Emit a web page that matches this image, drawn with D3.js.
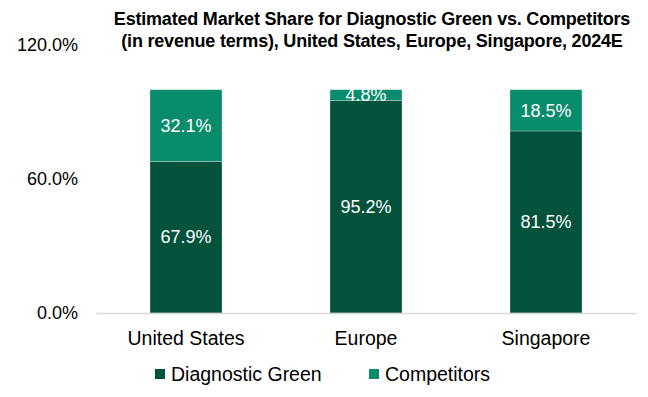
<!DOCTYPE html>
<html>
<head>
<meta charset="utf-8">
<script src="https://cdn.jsdelivr.net/npm/d3@7"></script>
<style>
  body { margin: 0; background: #fff; }
  text { font-family: "Liberation Sans", Arial, sans-serif; }
</style>
</head>
<body>
<div id="chart"></div>
<script>
// data
var categories = ["United States", "Europe", "Singapore"];
var seriesNames = ["Diagnostic Green", "Competitors"];
var diagnosticGreen = [67.9, 95.2, 81.5];
var competitors = [32.1, 4.8, 18.5];
var yTicks = [0, 60, 120];

var colors = ["#02523c", "#098c6c"];

// svg container
var svgWidth = 648;
var svgHeight = 397;

var margin = { top: 45, right: 12, bottom: 84, left: 96 };
var chartWidth = svgWidth - margin.left - margin.right;
var chartHeight = svgHeight - margin.top - margin.bottom;

var svg = d3.select("#chart")
            .append("svg")
            .attr("width", svgWidth)
            .attr("height", svgHeight);

// title
var title = svg.append("text")
               .attr("x", 372)
               .attr("y", 25)
               .attr("text-anchor", "middle")
               .style("font-size", "18px")
               .style("font-weight", "bold")
               .style("letter-spacing", "-0.2px")
               .attr("fill", "#000");
title.append("tspan").attr("x", 372).attr("dy", 0)
     .text("Estimated Market Share for Diagnostic Green vs. Competitors");
title.append("tspan").attr("x", 372).attr("dy", 22)
     .text("(in revenue terms), United States, Europe, Singapore, 2024E");

var chartGroup = svg.append("g")
                    .attr("transform", `translate(${margin.left}, ${margin.top})`);

// scales
var xScale = d3.scaleBand()
               .domain(categories)
               .range([0, chartWidth])
               .paddingInner(0.6)
               .paddingOuter(0.3);

var yScale = d3.scaleLinear()
               .domain([0, 120])
               .range([chartHeight, 0]);

// stacked data
var rows = categories.map((c, i) => ({
  category: c,
  "Diagnostic Green": diagnosticGreen[i],
  "Competitors": competitors[i]
}));
var stacked = d3.stack().keys(seriesNames)(rows);

// y axis (labels only)
var yAxis = d3.axisLeft(yScale)
              .tickValues(yTicks)
              .tickSize(0)
              .tickPadding(18)
              .tickFormat(d => d3.format(".1f")(d) + "%");
var yG = chartGroup.append("g").call(yAxis);
yG.select(".domain").remove();
yG.selectAll("text")
  .style("font-size", "18px")
  .style("font-family", "'Liberation Sans', Arial, sans-serif")
  .attr("fill", "#000");

// bars
var layers = chartGroup.selectAll(".layer")
                       .data(stacked)
                       .enter()
                       .append("g")
                       .attr("class", "layer")
                       .attr("fill", (d, i) => colors[i]);

layers.selectAll("rect")
      .data(d => d)
      .enter()
      .append("rect")
      .attr("x", d => xScale(d.data.category))
      .attr("y", d => yScale(d[1]))
      .attr("width", xScale.bandwidth())
      .attr("height", d => yScale(d[0]) - yScale(d[1]))
      .attr("stroke", "#ffffff")
      .attr("stroke-opacity", 0.35)
      .attr("stroke-width", 0.8);

// value labels
layers.selectAll(".val")
      .data(d => d)
      .enter()
      .append("text")
      .attr("class", "val")
      .attr("x", d => xScale(d.data.category) + xScale.bandwidth() / 2)
      .attr("y", d => (yScale(d[0]) + yScale(d[1])) / 2)
      .attr("dy", "0.35em")
      .attr("text-anchor", "middle")
      .attr("fill", "#fff")
      .style("font-size", "18px")
      .text(d => d3.format(".1f")(d[1] - d[0]) + "%");

// x axis
var xAxis = d3.axisBottom(xScale).tickSize(0).tickPadding(18);
var xG = chartGroup.append("g")
                   .attr("transform", `translate(0, ${chartHeight})`)
                   .call(xAxis);
xG.select(".domain").attr("stroke", "#d9d9d9").attr("stroke-width", 1.5);
xG.selectAll("text")
  .style("font-size", "19.5px")
  .style("font-family", "'Liberation Sans', Arial, sans-serif")
  .attr("fill", "#000");

// legend
var legendX = [155, 369];
var legend = svg.selectAll(".legend")
                .data(seriesNames)
                .enter()
                .append("g")
                .attr("class", "legend")
                .attr("transform", (d, i) => `translate(${legendX[i]}, 374)`);
legend.append("rect")
      .attr("x", 0)
      .attr("y", -5)
      .attr("width", 10)
      .attr("height", 10)
      .attr("fill", (d, i) => colors[i]);
legend.append("text")
      .attr("x", 16)
      .attr("y", 0)
      .attr("dy", "0.35em")
      .style("font-size", "19.5px")
      .attr("fill", "#000")
      .text(d => d);
</script>
</body>
</html>
